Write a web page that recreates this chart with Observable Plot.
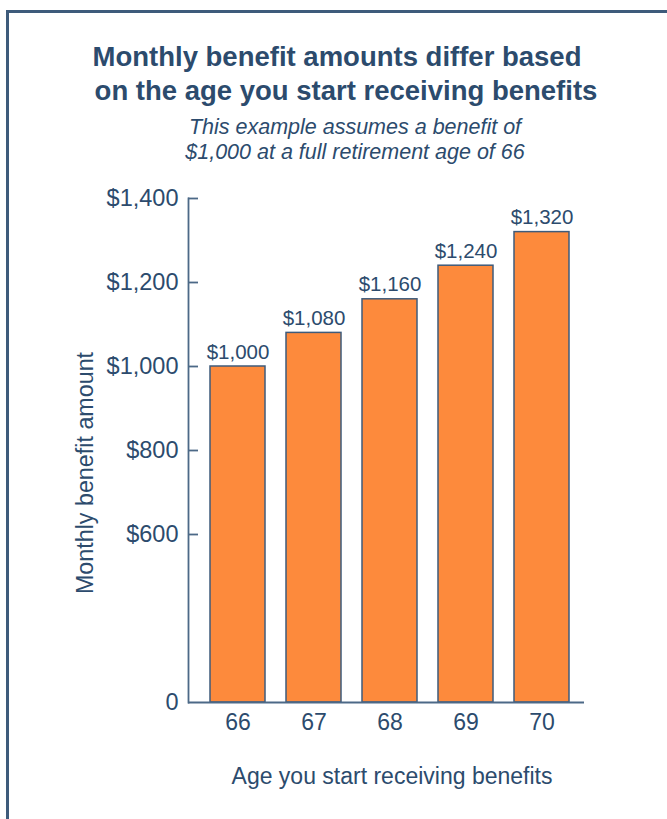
<!DOCTYPE html>
<html><head><meta charset="utf-8">
<script src="https://cdn.jsdelivr.net/npm/d3@7"></script>
<script src="https://cdn.jsdelivr.net/npm/@observablehq/plot@0.6"></script>
<style>
body{margin:0;background:#fff;font-family:"Liberation Sans",Arial,Helvetica,sans-serif;}
#wrap{position:relative;width:667px;height:819px;overflow:hidden;background:#fff;}
#wrap svg{position:absolute;left:0;top:0;}
.frameTop{position:absolute;left:6px;top:10px;width:661px;height:2.5px;background:#3e5b7b;}
.frameLeft{position:absolute;left:6px;top:10px;width:2.5px;height:809px;background:#3e5b7b;}
.title{position:absolute;left:0;text-align:center;font-size:27.5px;font-weight:bold;line-height:34px;color:#2c4b6d;white-space:nowrap;}
.t1{top:40.3px;width:674px;}
.t2{top:74.3px;width:692px;}
.subtitle{position:absolute;left:0;width:710px;text-align:center;top:115px;font-size:21.5px;font-style:italic;line-height:25px;color:#2c4b6d;white-space:nowrap;}
.ylabel{position:absolute;left:85px;top:473px;transform:translate(-50%,-50%) rotate(-90deg);font-size:23.3px;color:#2c4b6d;white-space:nowrap;}
.xlabel{position:absolute;left:0;width:784px;text-align:center;top:763px;font-size:23px;line-height:26px;color:#2c4b6d;white-space:nowrap;}
</style></head><body>
<div id="wrap">
  <div class="frameTop"></div>
  <div class="frameLeft"></div>
  <div class="title t1">Monthly benefit amounts differ based</div>
  <div class="title t2">on the age you start receiving benefits</div>
  <div class="subtitle">This example assumes a benefit of<br>$1,000 at a full retirement age of 66</div>
  <div class="ylabel">Monthly benefit amount</div>
  <div class="xlabel">Age you start receiving benefits</div>
</div>
<script>
const ages = ["66", "67", "68", "69", "70"];
const benefits = [1000, 1080, 1160, 1240, 1320];
const axisBase = 200; // broken axis: the "0" label sits at this position
const yTicks = [200, 600, 800, 1000, 1200, 1400];
const yTickLabels = ["0", "$600", "$800", "$1,000", "$1,200", "$1,400"];
const yTop = 1400;

const data = ages.map((a, i) => ({age: a, benefit: benefits[i]}));
const fmt = d => "$" + d3.format(",")(d);
const tickLabel = d => yTickLabels[yTicks.indexOf(d)];

const textColor = "#2c4b6d";
const axisColor = "#4c6987";

const chart = Plot.plot({
  width: 667,
  height: 819,
  marginTop: 198,
  marginBottom: 117,
  marginLeft: 188,
  marginRight: 83,
  style: {fontFamily: "'Liberation Sans', Arial, Helvetica, sans-serif", color: textColor, background: "transparent"},
  x: {domain: ages, paddingInner: 0.28, paddingOuter: 0.235, align: 0.58},
  y: {domain: [axisBase, yTop]},
  marks: [
    Plot.barY(data, {x: "age", y1: axisBase, y2: "benefit", fill: "#fd8a3c", stroke: "#3e5b7b", strokeWidth: 1.5}),
    Plot.text(data, {x: "age", y: "benefit", text: d => fmt(d.benefit), lineAnchor: "bottom", dy: -8, fontSize: 20.5, fill: textColor}),
    Plot.ruleY([axisBase], {stroke: axisColor, strokeWidth: 1.8}),
    Plot.frame({anchor: "left", stroke: axisColor, strokeWidth: 1.8}),
    Plot.axisY({ticks: yTicks, tickFormat: tickLabel, tickSize: 0, tickPadding: 10, fontSize: 23.5, label: null, fill: textColor}),
    Plot.axisY({ticks: yTicks.slice(1), tickFormat: () => "", tickSize: 10, dx: 10, label: null, stroke: axisColor, strokeWidth: 1.8}),
    Plot.axisX({tickSize: 0, tickPadding: 11, fontSize: 23, label: null, fill: textColor})
  ]
});
document.getElementById("wrap").appendChild(chart);
</script>
</body></html>
